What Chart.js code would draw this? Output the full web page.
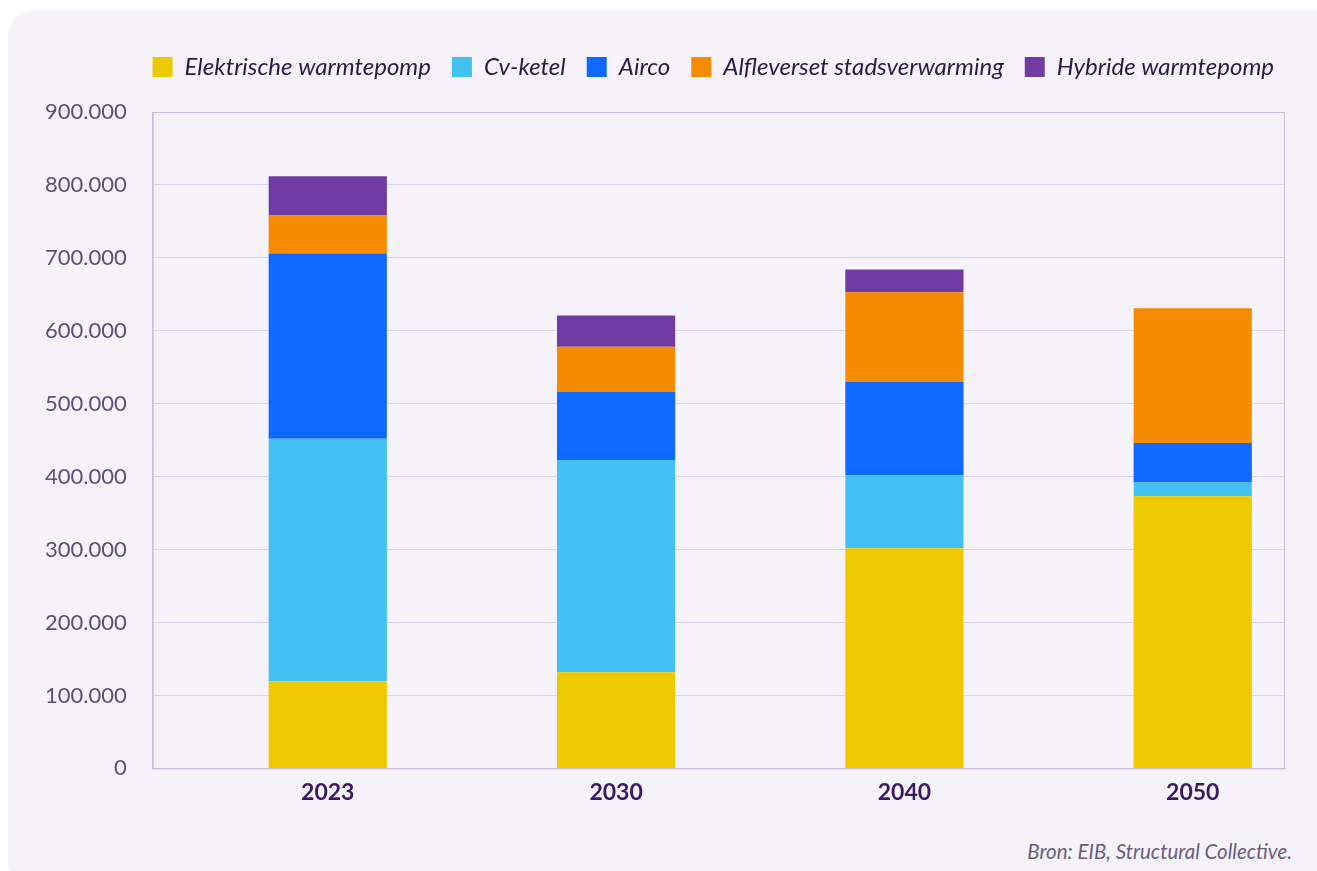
<!DOCTYPE html>
<html>
<head>
<meta charset="utf-8">
<script src="https://cdn.jsdelivr.net/npm/chart.js@4"></script>
<style>
  html, body { margin: 0; padding: 0; background: #ffffff; }
  body { width: 1317px; height: 871px; position: relative; overflow: hidden; font-family: Lato, "Open Sans", sans-serif; }
  #card {
    position: absolute; left: 8px; top: 10px; width: 1330px; height: 880px;
    background: #f5f3f9; border-radius: 26px;
  }
  #wrap { position: absolute; left: 0; top: 0; width: 1309px; height: 798px; }
  #bron {
    position: absolute; right: 46px; top: 829px;
    font-style: italic; font-size: 20.5px; color: #6b5d80;
  }
</style>
</head>
<body>
<div id="card">
  <div id="wrap"><canvas id="chart"></canvas></div>
  <div id="bron">Bron: EIB, Structural Collective.</div>
</div>
<script>
// categorieen en waarden (aantal woningen)
const years = ["2023", "2030", "2040", "2050"];
const elektrisch = [119000, 132000, 302000, 373000];
const cvKetel = [333000, 291000, 100000, 19000];
const airco = [254000, 93000, 128000, 54000];
const stadsverwarming = [52000, 62000, 123000, 185000];
const hybride = [54000, 43000, 31000, 0];

const yTicks = { min: 0, max: 900000, step: 100000 };

const series = [
  { label: "Elektrische warmtepomp", data: elektrisch, color: "#efc900" },
  { label: "Cv-ketel", data: cvKetel, color: "#44c1f3" },
  { label: "Airco", data: airco, color: "#0f69ff" },
  { label: "Alfleverset stadsverwarming", data: stadsverwarming, color: "#f58b00" },
  { label: "Hybride warmtepomp", data: hybride, color: "#703ca4" }
];

// rand rond het plotgebied
const boxPlugin = {
  id: "box",
  afterDraw(chart) {
    const a = chart.chartArea, ctx = chart.ctx;
    ctx.save();
    ctx.strokeStyle = "#cdbbe0";
    ctx.lineWidth = 1;
    ctx.strokeRect(a.left + 0.5, a.top + 0.5, a.right - a.left - 1, a.bottom - a.top);
    ctx.restore();
  }
};

// extra ruimte onder de legenda, en legenda iets naar rechts
const legendGap = {
  id: "legendGap",
  beforeInit(chart) {
    const leg = chart.legend;
    const fit = leg.fit;
    leg.fit = function () {
      fit.call(leg);
      this.height += 23;
    };
    const draw = leg.draw;
    leg.draw = function () {
      chart.ctx.save();
      chart.ctx.translate(10, 0);
      draw.apply(leg, arguments);
      chart.ctx.restore();
    };
  }
};

new Chart(document.getElementById("chart"), {
  type: "bar",
  data: {
    datasets: series.map(s => ({
      label: s.label,
      data: s.data.map((v, i) => ({ x: i, y: v })),
      backgroundColor: s.color,
      borderWidth: 0,
      barPercentage: 0.41,
      categoryPercentage: 1
    }))
  },
  options: {
    responsive: true,
    maintainAspectRatio: false,
    animation: false,
    layout: { padding: { top: 24, right: 32, left: 11, bottom: 0 } },
    plugins: {
      tooltip: { enabled: false },
      legend: {
        position: "top",
        align: "end",
        labels: {
          boxWidth: 20,
          boxHeight: 20,
          padding: 21,
          color: "#2a1b45",
          font: { family: "Lato", size: 24, style: "italic" }
        }
      }
    },
    scales: {
      x: {
        type: "linear",
        stacked: true,
        offset: false,
        // in het origineel staan de staven iets naar rechts verschoven
        min: -0.607,
        max: 3.32,
        grid: { display: false },
        border: { color: "#cdbbe0" },
        ticks: {
          stepSize: 1,
          includeBounds: false,
          autoSkip: false,
          maxRotation: 0,
          color: "#3a1a66",
          padding: 2,
          font: { family: "Lato", size: 23, weight: "bold" },
          callback: v => years[v] || ""
        }
      },
      y: {
        stacked: true,
        min: yTicks.min,
        max: yTicks.max,
        grid: { color: "#ddd2ea", drawTicks: false },
        border: { color: "#cdbbe0" },
        ticks: {
          stepSize: yTicks.step,
          padding: 26,
          color: "#5e4f73",
          font: { family: "Lato", size: 22 },
          callback: v => v.toString().replace(/\B(?=(\d{3})+(?!\d))/g, ".")
        }
      }
    }
  },
  plugins: [boxPlugin, legendGap]
});
</script>
</body>
</html>
